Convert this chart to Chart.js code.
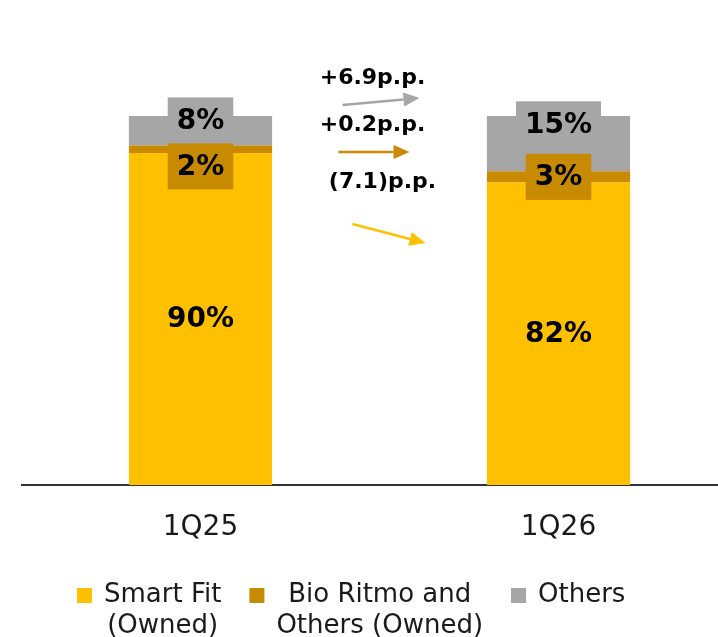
<!DOCTYPE html>
<html>
<head>
<meta charset="utf-8">
<title>Revenue mix</title>
<script src="https://cdn.jsdelivr.net/npm/chart.js@4.4.1/dist/chart.umd.min.js"></script>
<style>
  html, body { margin: 0; padding: 0; background: #fff; overflow: hidden; }
  #wrap { width: 740px; height: 637px; }
</style>
</head>
<body>
<div id="wrap"><canvas id="mixChart"></canvas></div>
<script>
/* ── Data ── */
const periods     = ['1Q25', '1Q26'];
const smartFit    = [90, 82];
const bioRitmo    = [2, 3];
const others      = [8, 15];
const seriesNames = [['Smart Fit', '(Owned)'], ['Bio Ritmo and', 'Others (Owned)'], ['Others']];
const seriesColors = ['#FFC000', '#C88A00', '#A6A6A6'];
// change in share, p.p. (Smart Fit, Bio Ritmo, Others)
const shareChange = [-7.1, 0.2, 6.9];

const FONT = '"DejaVu Sans", sans-serif';

/* ── Segment value boxes ── */
const segmentLabels = {
  id: 'segmentLabels',
  afterDatasetsDraw(chart) {
    const ctx = chart.ctx;
    const n = chart.data.datasets.length;
    ctx.save();
    ctx.font = `bold 28px ${FONT}`;
    ctx.textAlign = 'center';
    ctx.textBaseline = 'middle';
    periods.forEach((_, j) => {
      let floor = -Infinity;
      for (let i = n - 1; i >= 0; i--) {
        const bar = chart.getDatasetMeta(i).data[j];
        const text = chart.data.datasets[i].data[j] + '%';
        const h = bar.base - bar.y;
        let cy = i === n - 1 ? bar.y + h * 0.15 : bar.y + h / 2;
        const w = ctx.measureText(text).width + 18, bh = 46;
        if (cy - bh / 2 < floor) cy = floor + bh / 2;
        ctx.fillStyle = seriesColors[i];
        ctx.fillRect(bar.x - w / 2, cy - bh / 2, w, bh);
        ctx.fillStyle = '#000';
        ctx.fillText(text, bar.x, cy + 1);
        floor = cy + bh / 2;
      }
    });
    ctx.restore();
  }
};

/* ── p.p. change callouts between the bars ── */
function fmtChange(v) {
  return v < 0 ? `(${Math.abs(v).toFixed(1)})p.p.` : `+${v.toFixed(1)}p.p.`;
}

const changeCallouts = {
  id: 'changeCallouts',
  afterDraw(chart) {
    const ctx = chart.ctx;
    const a = chart.getDatasetMeta(0).data[0], b = chart.getDatasetMeta(0).data[1];
    const mid = (a.x + b.x) / 2;
    const top = chart.chartArea.top;
    // offsets from the bar midpoint / plot top, listed top to bottom
    const layout = [
      { s: 2, tx: -7, ty: -32, x0: -37, y0: -11, x1: 40, y1: -18 },
      { s: 1, tx: -7, ty: 15,  x0: -41, y0: 36,  x1: 30, y1: 36 },
      { s: 0, tx: 3,  ty: 72,  x0: -27, y0: 108, x1: 46, y1: 127 },
    ];
    ctx.save();
    ctx.font = `bold 22px ${FONT}`;
    ctx.textAlign = 'center';
    ctx.textBaseline = 'alphabetic';
    layout.forEach(l => {
      ctx.fillStyle = '#000';
      ctx.fillText(fmtChange(shareChange[l.s]), mid + l.tx, top + l.ty);

      const x0 = mid + l.x0, y0 = top + l.y0, x1 = mid + l.x1, y1 = top + l.y1;
      const ang = Math.atan2(y1 - y0, x1 - x0);
      const len = 16, half = 7;
      const bx = x1 - len * Math.cos(ang), by = y1 - len * Math.sin(ang);
      ctx.strokeStyle = seriesColors[l.s];
      ctx.fillStyle = seriesColors[l.s];
      ctx.lineWidth = 2.5;
      ctx.beginPath();
      ctx.moveTo(x0, y0);
      ctx.lineTo(bx, by);
      ctx.stroke();
      ctx.beginPath();
      ctx.moveTo(x1, y1);
      ctx.lineTo(bx + half * Math.sin(ang), by - half * Math.cos(ang));
      ctx.lineTo(bx - half * Math.sin(ang), by + half * Math.cos(ang));
      ctx.closePath();
      ctx.fill();
    });
    ctx.restore();
  }
};

/* ── Legend (two-line labels) ── */
const bottomLegend = {
  id: 'bottomLegend',
  afterDraw(chart) {
    const ctx = chart.ctx;
    const box = 15, gapText = 12, gapItem = 28;
    const base1 = 602, lineH = 31;
    ctx.save();
    ctx.font = `26px ${FONT}`;
    let x = 77;
    ctx.textBaseline = 'alphabetic';
    ctx.textAlign = 'center';
    seriesNames.forEach((lines, i) => {
      const tw = Math.max(...lines.map(t => ctx.measureText(t).width));
      ctx.fillStyle = seriesColors[i];
      ctx.fillRect(x, base1 - 14, box, box);
      ctx.fillStyle = '#1a1a1a';
      const cx = x + box + gapText + tw / 2;
      lines.forEach((t, k) => ctx.fillText(t, cx, base1 + k * lineH));
      x += box + gapText + tw + gapItem;
    });
    ctx.restore();
  }
};

/* ── Chart ── */
new Chart(document.getElementById('mixChart'), {
  type: 'bar',
  data: {
    labels: periods,
    datasets: [
      { label: 'Smart Fit (Owned)',            data: smartFit, backgroundColor: seriesColors[0] },
      { label: 'Bio Ritmo and Others (Owned)', data: bioRitmo, backgroundColor: seriesColors[1] },
      { label: 'Others',                       data: others,   backgroundColor: seriesColors[2] },
    ],
  },
  options: {
    responsive: true, maintainAspectRatio: false,
    animation: false,
    layout: { padding: { top: 116, left: 21.5, right: 2.5, bottom: 0 } },
    datasets: { bar: { barPercentage: 0.8, categoryPercentage: 0.5, borderWidth: 0 } },
    plugins: { legend: { display: false }, tooltip: { enabled: false } },
    scales: {
      x: {
        stacked: true,
        grid: { display: false, drawTicks: false },
        border: { display: true, color: '#333', width: 2 },
        ticks: { color: '#1a1a1a', font: { family: FONT, size: 28 }, padding: 26 },
        afterFit: s => { s.height = 152; },
      },
      y: {
        stacked: true, display: false,
        min: 0, max: 100,
      },
    },
  },
  plugins: [segmentLabels, changeCallouts, bottomLegend],
});
</script>
</body>
</html>
